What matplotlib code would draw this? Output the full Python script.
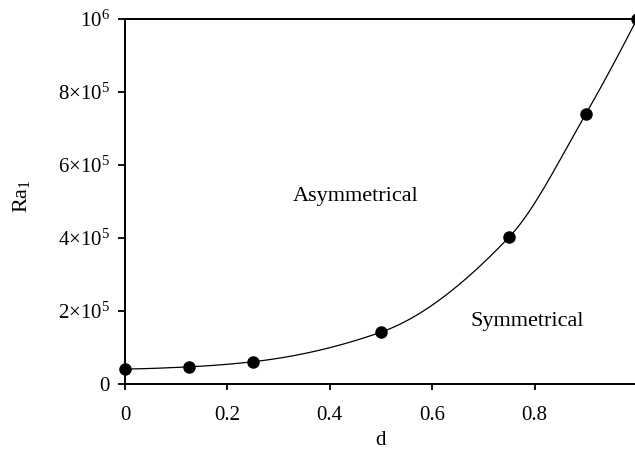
import numpy as np
import matplotlib
matplotlib.use("Agg")
import matplotlib.pyplot as plt

d_values = [0.0, 0.125, 0.25, 0.5, 0.75, 0.9, 1.0]
ra_values = [4.1e4, 4.7e4, 6.1e4, 1.42e5, 4.02e5, 7.4e5, 1.0e6]
x_ticks = [0, 0.2, 0.4, 0.6, 0.8]
x_tick_labels = ["0", "0.2", "0.4", "0.6", "0.8"]
y_ticks = [0, 2e5, 4e5, 6e5, 8e5, 1e6]
y_tick_labels = ["0", r"2$\times$10$^5$", r"4$\times$10$^5$", r"6$\times$10$^5$",
                 r"8$\times$10$^5$", r"10$^6$"]

plt.rcParams['font.family'] = ['Liberation Serif', 'DejaVu Serif']
plt.rcParams['mathtext.fontset'] = 'custom'
plt.rcParams['mathtext.rm'] = 'Liberation Serif'
plt.rcParams['mathtext.it'] = 'Liberation Serif:italic'


def pchip(x, y, xs):
    x = np.asarray(x, float); y = np.asarray(y, float)
    h = np.diff(x); dl = np.diff(y) / h
    n = len(x); m = np.zeros(n)
    for k in range(1, n - 1):
        if dl[k - 1] * dl[k] > 0:
            w1 = 2 * h[k] + h[k - 1]; w2 = h[k] + 2 * h[k - 1]
            m[k] = (w1 + w2) / (w1 / dl[k - 1] + w2 / dl[k])
    m[0] = ((2 * h[0] + h[1]) * dl[0] - h[0] * dl[1]) / (h[0] + h[1])
    if m[0] * dl[0] <= 0: m[0] = 0
    m[-1] = ((2 * h[-1] + h[-2]) * dl[-1] - h[-1] * dl[-2]) / (h[-1] + h[-2])
    if m[-1] * dl[-1] <= 0: m[-1] = 0
    idx = np.clip(np.searchsorted(x, xs) - 1, 0, n - 2)
    t = (xs - x[idx]) / h[idx]
    h00 = 2 * t**3 - 3 * t**2 + 1; h10 = t**3 - 2 * t**2 + t
    h01 = -2 * t**3 + 3 * t**2; h11 = t**3 - t**2
    return h00 * y[idx] + h10 * h[idx] * m[idx] + h01 * y[idx + 1] + h11 * h[idx] * m[idx + 1]


fig = plt.figure(figsize=(6.35, 4.51), dpi=100)
W, H = 635, 451
x0, x1 = 125, 637
ytop, ybot = 19, 384
ax = fig.add_axes([x0 / W, (H - ybot) / H, (x1 - x0) / W, (ybot - ytop) / H])

xs = np.linspace(d_values[0], d_values[-1], 400)
ax.plot(xs, pchip(d_values, ra_values, xs), color='black', lw=0.9, clip_on=False)
ax.plot(d_values, ra_values, 'o', color='black', ms=8, clip_on=False, zorder=5)

ax.set_xlim(0, 1.0)
ax.set_ylim(0, 1e6)
ax.set_xticks(x_ticks)
ax.set_xticklabels(x_tick_labels)
ax.set_yticks(y_ticks)
ax.set_yticklabels(y_tick_labels)
ax.tick_params(axis='x', direction='out', length=4.5, width=1.3, pad=11, labelsize=15)
ax.tick_params(axis='y', direction='out', length=5, width=1.3, pad=6, labelsize=15)
for s in ['left', 'bottom', 'top']:
    ax.spines[s].set_linewidth(1.4)
ax.spines['right'].set_visible(False)

ax.set_xlabel('d', fontsize=15, labelpad=5)
ax.set_ylabel(r'Ra$_1$', fontsize=16)
ax.yaxis.label.set_va('center')
ax.yaxis.set_label_coords((22 - x0) / (x1 - x0), (ybot - 196) / (ybot - ytop))

ax.text(0.45, 5.15e5, 'Asymmetrical', fontsize=16, ha='center', va='center')
ax.text(0.785, 1.7e5, 'Symmetrical', fontsize=16, ha='center', va='center')

fig.savefig('out.png', dpi=100)
